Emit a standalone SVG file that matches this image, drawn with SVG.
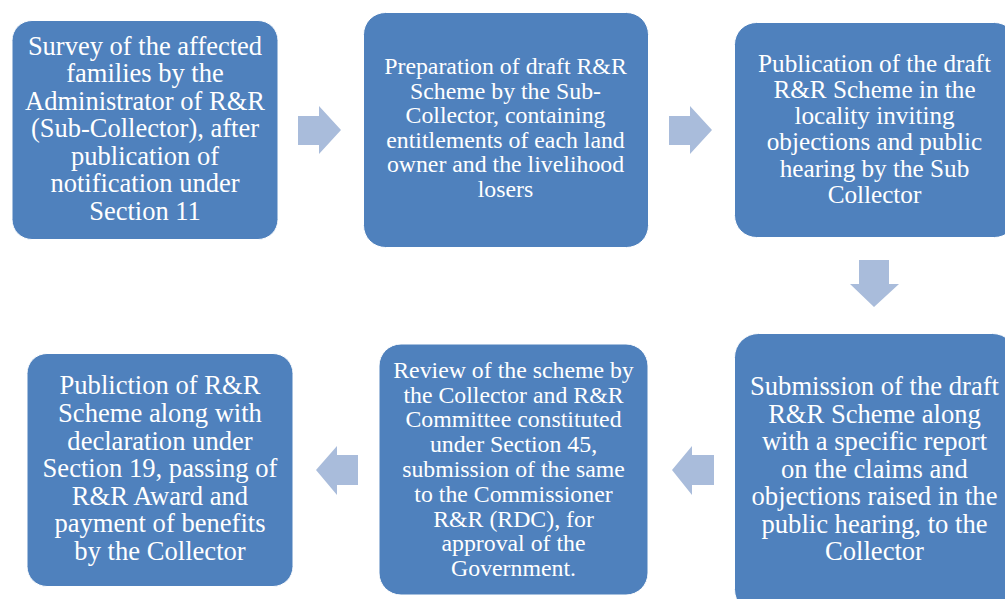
<svg xmlns="http://www.w3.org/2000/svg" width="1005" height="599" viewBox="0 0 1005 599">
<style>
.box{fill:#4F81BD;stroke:#FFFFFF;stroke-width:1}
.arr{fill:#A9BCDB}
text{fill:#FFFFFF;text-anchor:middle;font-family:"Liberation Serif","Times New Roman",serif}
</style>
<rect width="1005" height="599" fill="#FFFFFF"/>
<g id="connectors">
<polygon class="arr" points="298,116 319,116 319,106 341,130 319,154 319,145 298,145"/>
<polygon class="arr" points="669,116 690,116 690,106 712,130 690,154 690,145 669,145"/>
<polygon class="arr" points="859,260 889,260 889,284 899,284 874,307 850,284 859,284"/>
<polygon class="arr" points="714,455 692,455 692,446 672,470 692,495 692,485 714,485"/>
<polygon class="arr" points="358,455 337,455 337,446 316,470 337,495 337,485 358,485"/>
</g>
<g id="node1">
<rect class="box" x="12" y="20.5" width="266" height="219" rx="20"/>
<text font-size="26.5" x="145"><tspan x="145" y="54.5">Survey of the affected</tspan><tspan x="145" y="82">families by the</tspan><tspan x="145" y="109.5">Administrator of R&amp;R</tspan><tspan x="145" y="137">(Sub-Collector), after</tspan><tspan x="145" y="164.5">publication of</tspan><tspan x="145" y="192">notification under</tspan><tspan x="145" y="219.5">Section 11</tspan></text>
</g>
<g id="node2">
<rect class="box" x="363.5" y="12.5" width="285" height="235" rx="22"/>
<text font-size="23.8" x="505.5"><tspan x="505.5" y="74">Preparation of draft R&amp;R</tspan><tspan x="505.5" y="98.6">Scheme by the Sub-</tspan><tspan x="505.5" y="123.2">Collector, containing</tspan><tspan x="505.5" y="147.8">entitlements of each land</tspan><tspan x="505.5" y="172.4">owner and the livelihood</tspan><tspan x="505.5" y="197">losers</tspan></text>
</g>
<g id="node3">
<rect class="box" x="734.5" y="22.5" width="282" height="215" rx="22"/>
<text font-size="25.2" x="874.5"><tspan x="874.5" y="71.7">Publication of the draft</tspan><tspan x="874.5" y="97.9">R&amp;R Scheme in the</tspan><tspan x="874.5" y="124.1">locality inviting</tspan><tspan x="874.5" y="150.3">objections and public</tspan><tspan x="874.5" y="176.5">hearing by the Sub</tspan><tspan x="874.5" y="202.7">Collector</tspan></text>
</g>
<g id="node4">
<rect class="box" x="734.5" y="333.5" width="282" height="280" rx="24"/>
<text font-size="26.6" x="874.5"><tspan x="874.5" y="395">Submission of the draft</tspan><tspan x="874.5" y="422.5">R&amp;R Scheme along</tspan><tspan x="874.5" y="450">with a specific report</tspan><tspan x="874.5" y="477.5">on the claims and</tspan><tspan x="874.5" y="505">objections raised in the</tspan><tspan x="874.5" y="532.5">public hearing, to the</tspan><tspan x="874.5" y="560">Collector</tspan></text>
</g>
<g id="node5">
<rect class="box" x="379" y="344" width="269" height="251" rx="22"/>
<text font-size="23.8" x="513.5"><tspan x="513.5" y="377.7">Review of the scheme by</tspan><tspan x="513.5" y="402.5">the Collector and R&amp;R</tspan><tspan x="513.5" y="427.3">Committee constituted</tspan><tspan x="513.5" y="452.1">under Section 45,</tspan><tspan x="513.5" y="476.9">submission of the same</tspan><tspan x="513.5" y="501.7">to the Commissioner</tspan><tspan x="513.5" y="526.5">R&amp;R (RDC), for</tspan><tspan x="513.5" y="551.3">approval of the</tspan><tspan x="513.5" y="576">Government.</tspan></text>
</g>
<g id="node6">
<rect class="box" x="27" y="353.5" width="266" height="233" rx="20"/>
<text font-size="26.6" x="160"><tspan x="160" y="394.3">Publiction of R&amp;R</tspan><tspan x="160" y="421.9">Scheme along with</tspan><tspan x="160" y="449.5">declaration under</tspan><tspan x="160" y="477.1">Section 19, passing of</tspan><tspan x="160" y="504.7">R&amp;R Award and</tspan><tspan x="160" y="532.3">payment of benefits</tspan><tspan x="160" y="560">by the Collector</tspan></text>
</g>
</svg>
